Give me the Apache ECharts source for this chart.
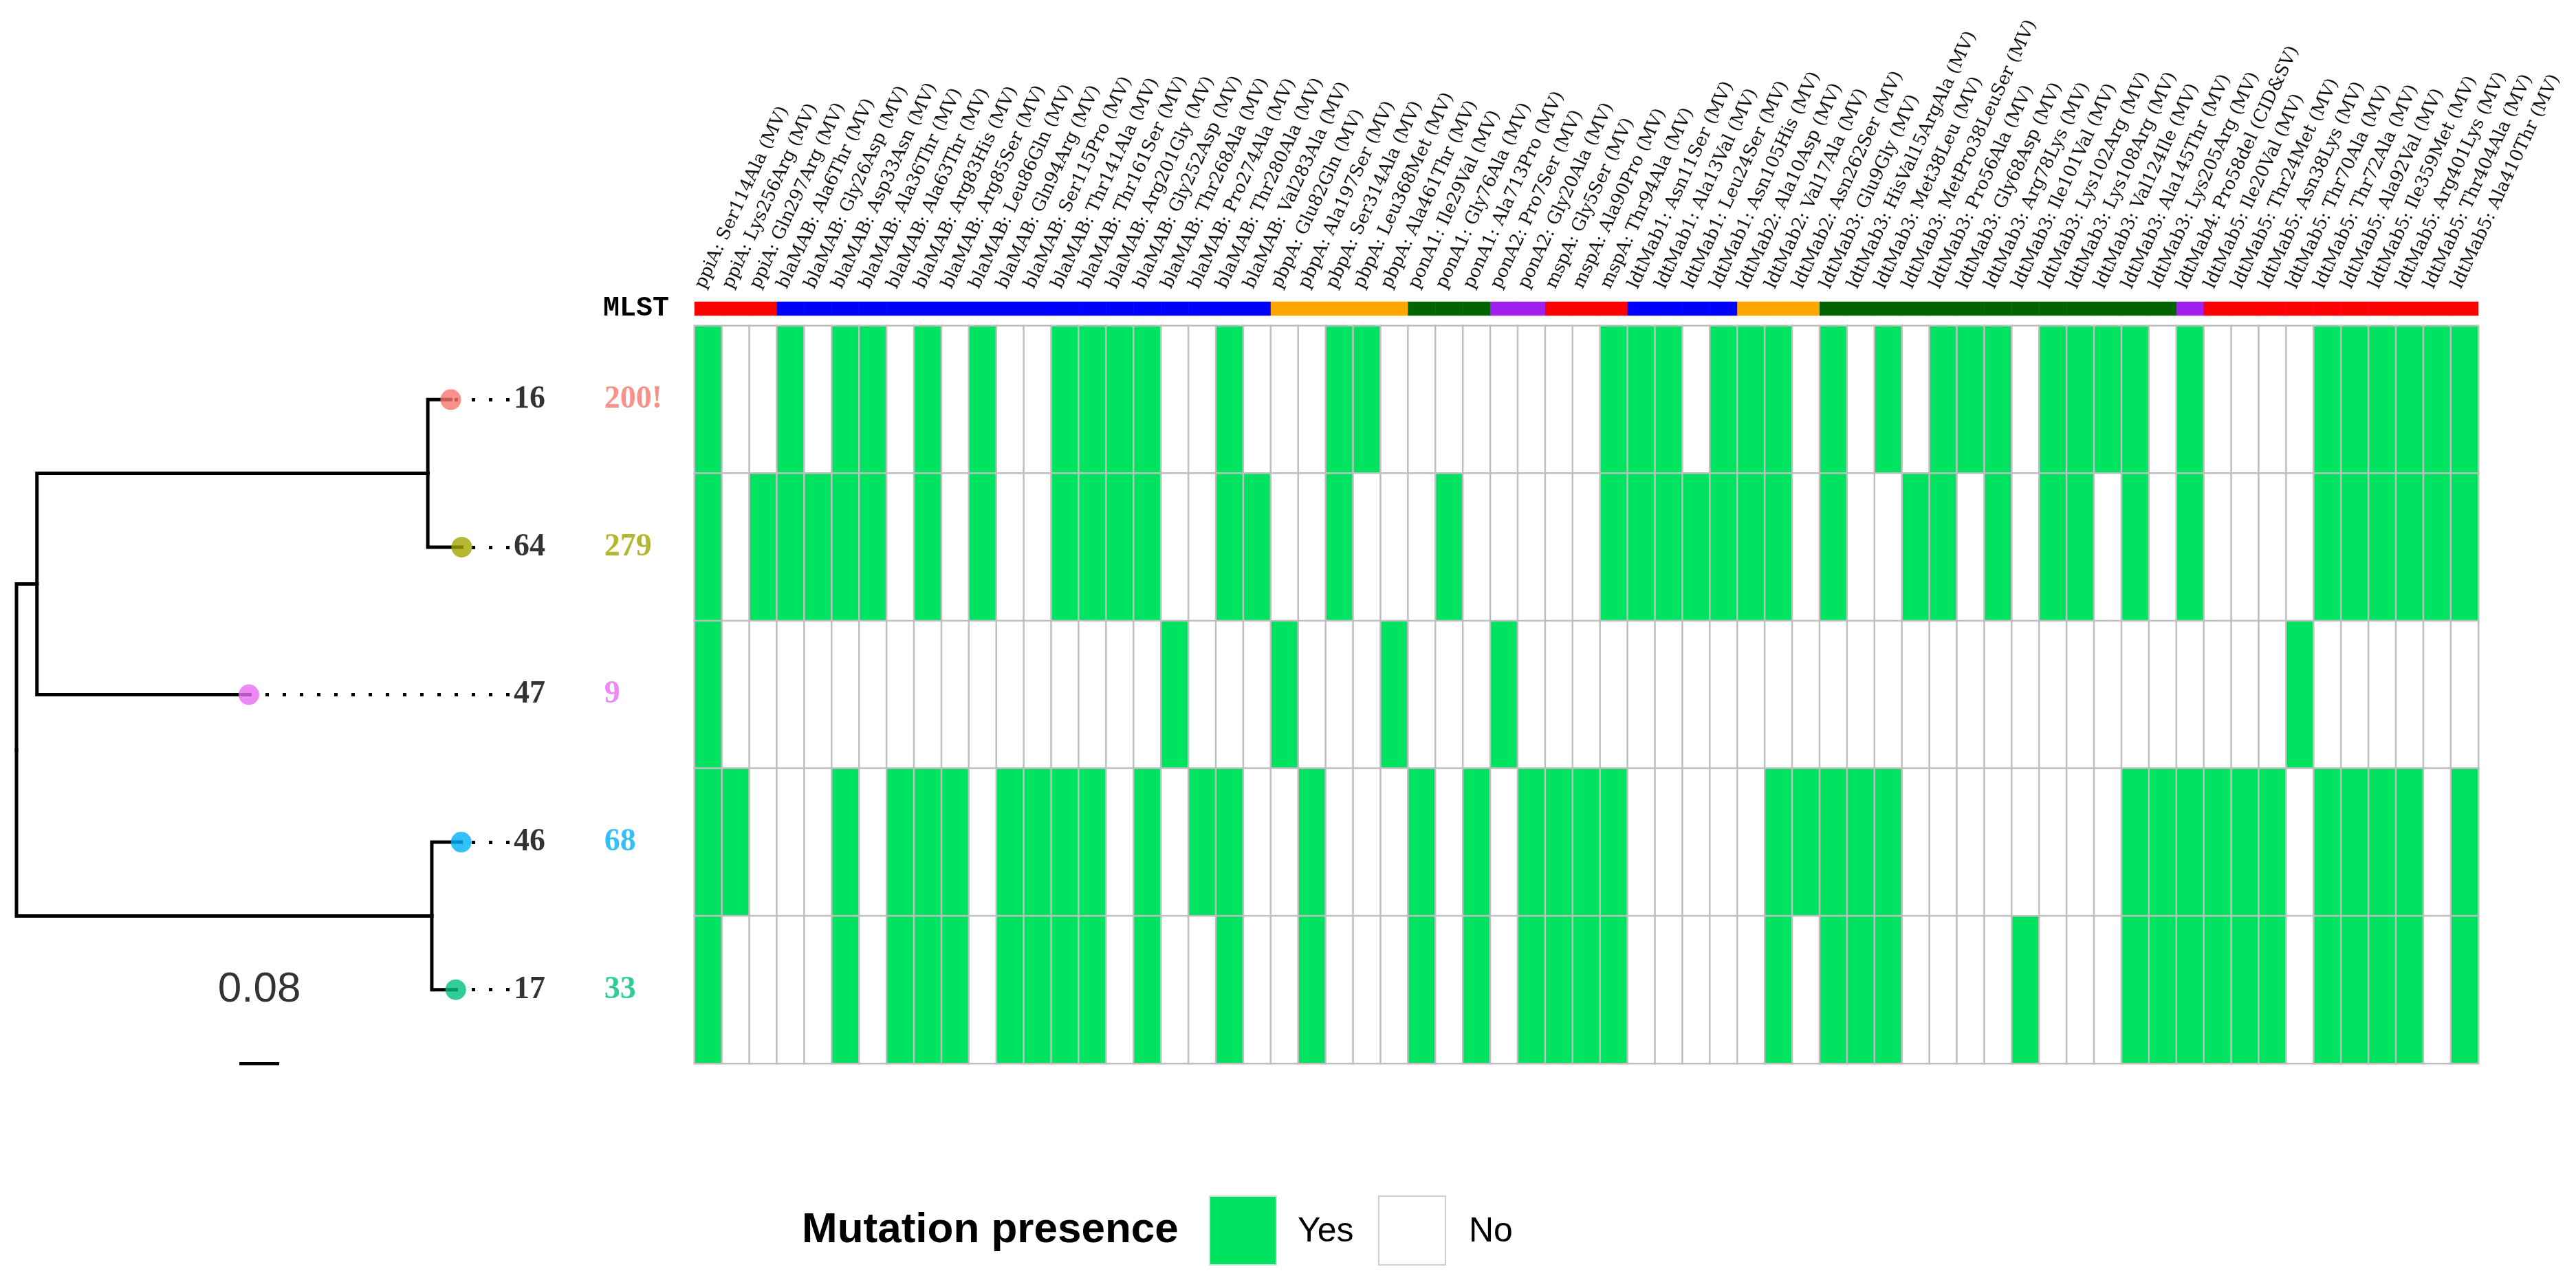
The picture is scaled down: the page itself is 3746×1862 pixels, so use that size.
<!DOCTYPE html>
<html><head><meta charset="utf-8">
<script src="https://cdn.jsdelivr.net/npm/echarts@6/dist/echarts.min.js"></script>
<style>html,body{margin:0;padding:0;background:#fff}#c{width:3746px;height:1862px}</style>
</head><body><div id="c"></div>
<script>
// ---------------- data ----------------
const mutations = [
 'ppiA: Ser114Ala (MV)','ppiA: Lys256Arg (MV)','ppiA: Gln297Arg (MV)',
 'blaMAB: Ala6Thr (MV)','blaMAB: Gly26Asp (MV)','blaMAB: Asp33Asn (MV)','blaMAB: Ala36Thr (MV)',
 'blaMAB: Ala63Thr (MV)','blaMAB: Arg83His (MV)','blaMAB: Arg85Ser (MV)','blaMAB: Leu86Gln (MV)',
 'blaMAB: Gln94Arg (MV)','blaMAB: Ser115Pro (MV)','blaMAB: Thr141Ala (MV)','blaMAB: Thr161Ser (MV)',
 'blaMAB: Arg201Gly (MV)','blaMAB: Gly252Asp (MV)','blaMAB: Thr268Ala (MV)','blaMAB: Pro274Ala (MV)',
 'blaMAB: Thr280Ala (MV)','blaMAB: Val283Ala (MV)',
 'pbpA: Glu82Gln (MV)','pbpA: Ala197Ser (MV)','pbpA: Ser314Ala (MV)','pbpA: Leu368Met (MV)','pbpA: Ala461Thr (MV)',
 'ponA1: Ile29Val (MV)','ponA1: Gly76Ala (MV)','ponA1: Ala713Pro (MV)',
 'ponA2: Pro7Ser (MV)','ponA2: Gly20Ala (MV)',
 'mspA: Gly5Ser (MV)','mspA: Ala90Pro (MV)','mspA: Thr94Ala (MV)',
 'ldtMab1: Asn11Ser (MV)','ldtMab1: Ala13Val (MV)','ldtMab1: Leu24Ser (MV)','ldtMab1: Asn105His (MV)',
 'ldtMab2: Ala10Asp (MV)','ldtMab2: Val17Ala (MV)','ldtMab2: Asn262Ser (MV)',
 'ldtMab3: Glu9Gly (MV)','ldtMab3: HisVal15ArgAla (MV)','ldtMab3: Met38Leu (MV)','ldtMab3: MetPro38LeuSer (MV)',
 'ldtMab3: Pro56Ala (MV)','ldtMab3: Gly68Asp (MV)','ldtMab3: Arg78Lys (MV)','ldtMab3: Ile101Val (MV)',
 'ldtMab3: Lys102Arg (MV)','ldtMab3: Lys108Arg (MV)','ldtMab3: Val124Ile (MV)','ldtMab3: Ala145Thr (MV)',
 'ldtMab3: Lys205Arg (MV)',
 'ldtMab4: Pro58del (CID&SV)',
 'ldtMab5: Ile20Val (MV)','ldtMab5: Thr24Met (MV)','ldtMab5: Asn38Lys (MV)','ldtMab5: Thr70Ala (MV)',
 'ldtMab5: Thr72Ala (MV)','ldtMab5: Ala92Val (MV)','ldtMab5: Ile359Met (MV)','ldtMab5: Arg401Lys (MV)',
 'ldtMab5: Thr404Ala (MV)','ldtMab5: Ala410Thr (MV)'
];
const genes = ['ppiA','blaMAB','pbpA','ponA1','ponA2','mspA','ldtMab1','ldtMab2','ldtMab3','ldtMab4','ldtMab5'];
const geneColors = ['#ff0000','#0000ff','#ffa500','#006400','#a020f0','#ff0000','#0000ff','#ffa500','#006400','#a020f0','#ff0000'];

const isolates = ['16','64','47','46','17'];
const mlstTypes = ['200!','279','9','68','33'];
const isolateColors = ['#F8766D','#A3A500','#E76BF3','#00B0F6','#00BF7D'];

// mutation presence (1 = yes, 0 = no), one list per isolate, in column order
const presence16 = [1,0,0,1,0, 1,1,0,1,0, 1,0,0,1,1, 1,1,0,0,1, 0,0,0,1,1, 0,0,0,0,0, 0,0,0,1,1, 1,0,1,1,1, 0,1,0,1,0, 1,1,1,0,1, 1,1,1,0,1, 0,0,0,0,1, 1,1,1,1,1];
const presence64 = [1,0,1,1,1, 1,1,0,1,0, 1,0,0,1,1, 1,1,0,0,1, 1,0,0,1,0, 0,0,1,0,0, 0,0,0,1,1, 1,1,1,1,1, 0,1,0,0,1, 1,0,1,0,1, 1,0,1,0,1, 0,0,0,0,1, 1,1,1,1,1];
const presence47 = [1,0,0,0,0, 0,0,0,0,0, 0,0,0,0,0, 0,0,1,0,0, 0,1,0,0,0, 1,0,0,0,1, 0,0,0,0,0, 0,0,0,0,0, 0,0,0,0,0, 0,0,0,0,0, 0,0,0,0,0, 0,0,0,1,0, 0,0,0,0,0];
const presence46 = [1,1,0,0,0, 1,0,1,1,1, 0,1,1,1,1, 0,1,0,1,1, 0,0,1,0,0, 0,1,0,1,0, 1,1,1,1,0, 0,0,0,0,1, 1,1,1,1,0, 0,0,0,0,0, 0,0,1,1,1, 1,1,1,0,1, 1,1,1,0,1];
const presence17 = [1,0,0,0,0, 1,0,1,1,1, 0,1,1,1,1, 0,1,0,0,1, 0,0,1,0,0, 0,1,0,1,0, 1,1,1,1,0, 0,0,0,0,1, 0,1,1,1,0, 0,0,0,1,0, 0,0,1,1,1, 1,1,1,0,1, 1,1,1,0,1];
const presenceRows = [presence16, presence64, presence47, presence46, presence17];

// phylogenetic tree: node, parent, branch length (substitutions/site)
const treeNodes    = ['root','n1','n2','n3','16','64','47','46','17'];
const treeParents  = [null,'root','n1','root','n2','n2','n1','n3','n3'];
const branchLength = [0, 0.041, 0.784, 0.833, 0.046, 0.068, 0.425, 0.059, 0.048];
const scaleBarLength = 0.08;

// ---------------- layout constants ----------------
const GREEN = '#00E360';
const tipLabelX = 0.989;   // tree units: where aligned tip labels start
const stLabelX = 1.179;
const scaleBarX0 = 0.447;

// ---------------- derived ----------------
const nodeX = {}, nodeY = {};
treeNodes.forEach((n, i) => {
  const p = treeParents[i];
  nodeX[n] = (p ? nodeX[p] : 0) + branchLength[i];
});
isolates.forEach((n, i) => { nodeY[n] = i + 0.5; });
function yOf(n) {
  if (nodeY[n] !== undefined) return nodeY[n];
  const kids = treeNodes.filter((m, i) => treeParents[i] === n);
  nodeY[n] = kids.reduce((s, k) => s + yOf(k), 0) / kids.length;
  return nodeY[n];
}
treeNodes.forEach(yOf);

const branchData = [];
treeNodes.forEach((n, i) => {
  const p = treeParents[i];
  if (!p) return;
  branchData.push({coords: [[nodeX[p], nodeY[p]], [nodeX[p], nodeY[n]], [nodeX[n], nodeY[n]]]});
});
const dotLineData = isolates.map(n => ({coords: [[tipLabelX, nodeY[n]], [nodeX[n], nodeY[n]]]}));
const tipDots = isolates.map((n, i) => ({value: [nodeX[n], nodeY[n]], itemStyle: {color: isolateColors[i]}}));
const tipLabels = isolates.map(n => ({value: [tipLabelX, nodeY[n]], name: n}));
const stLabels = mlstTypes.map((t, i) => ({value: [stLabelX, nodeY[isolates[i]]], name: t,
  label: {color: isolateColors[i]}}));

const heatData = [];
presenceRows.forEach((row, r) => row.forEach((v, c) => heatData.push([c, r, v])));
const geneData = mutations.map((m, c) => [c, 0, genes.indexOf(m.split(':')[0])]);

// ---------------- chart ----------------
const chart = echarts.init(document.getElementById('c'), null, {renderer: 'canvas'});
const serif = '"Liberation Serif", "Times New Roman", serif';
chart.setOption({
  animation: false,
  backgroundColor: '#ffffff',
  grid: [
    {left: 24, top: 474, width: 942.5, height: 1073},
    {left: 1010, top: 474, width: 2594, height: 1073},
    {left: 1010, top: 439, width: 2594, height: 20}
  ],
  xAxis: [
    {gridIndex: 0, type: 'value', min: 0, max: 1.3, show: false},
    {gridIndex: 1, type: 'category', data: mutations, show: false},
    {gridIndex: 2, type: 'category', data: mutations, position: 'top',
      axisLine: {show: false}, axisTick: {show: false}, splitLine: {show: false},
      axisLabel: {interval: 0, rotate: -65, align: 'left', verticalAlign: 'bottom', margin: 15,
        fontFamily: '"DejaVu Serif", serif', fontSize: 26, color: '#111'}}
  ],
  yAxis: [
    {gridIndex: 0, type: 'value', min: 0, max: 5, inverse: true, show: false},
    {gridIndex: 1, type: 'category', data: isolates, inverse: true, show: false},
    {gridIndex: 2, type: 'category', data: ['MLST'],
      axisLine: {show: false}, axisTick: {show: false}, splitLine: {show: false},
      axisLabel: {margin: 37, padding: [12, 0, 0, 0], fontFamily: '"Liberation Mono", monospace', fontWeight: 'bold', fontSize: 40, color: '#000'}}
  ],
  visualMap: [
    {type: 'piecewise', show: false, seriesIndex: 7, dimension: 2,
      pieces: [{value: 1, color: GREEN, label: 'Yes'}, {value: 0, color: '#ffffff', label: 'No'}]},
    {type: 'piecewise', show: false, seriesIndex: 8, dimension: 2,
      pieces: genes.map((g, i) => ({value: i, color: geneColors[i], label: g}))}
  ],
  series: [
    {type: 'lines', coordinateSystem: 'cartesian2d', xAxisIndex: 0, yAxisIndex: 0, polyline: true,
      silent: true, data: branchData, lineStyle: {color: '#000', width: 5, opacity: 1, join: 'miter', cap: 'square'}, z: 2},
    {type: 'lines', coordinateSystem: 'cartesian2d', xAxisIndex: 0, yAxisIndex: 0, polyline: false,
      silent: true, data: dotLineData, lineStyle: {color: '#000', width: 5, opacity: 1, type: [5, 20], cap: 'butt'}, z: 2},
    {type: 'scatter', xAxisIndex: 0, yAxisIndex: 0, symbol: 'circle', symbolSize: 30, data: tipDots, z: 3, silent: true},
    {type: 'scatter', xAxisIndex: 0, yAxisIndex: 0, symbolSize: 0, data: tipLabels, silent: true,
      label: {show: true, position: 'right', distance: 6, formatter: p => p.name,
        fontFamily: serif, fontWeight: 'bold', fontSize: 46, color: '#000'}},
    {type: 'scatter', xAxisIndex: 0, yAxisIndex: 0, symbolSize: 0, data: stLabels, silent: true,
      label: {show: true, position: 'right', distance: 0, formatter: p => p.name,
        fontFamily: serif, fontWeight: 'bold', fontSize: 46}},
    {type: 'lines', coordinateSystem: 'cartesian2d', xAxisIndex: 0, yAxisIndex: 0, silent: true,
      data: [{coords: [[scaleBarX0, 5], [scaleBarX0 + scaleBarLength, 5]]}],
      lineStyle: {color: '#000', width: 5, opacity: 1}},
    {type: 'scatter', xAxisIndex: 0, yAxisIndex: 0, symbolSize: 0, silent: true,
      data: [{value: [scaleBarX0 + scaleBarLength / 2, 4.5], name: String(scaleBarLength)}],
      label: {show: true, position: 'inside', formatter: p => p.name,
        fontFamily: '"Liberation Sans", Arial, sans-serif', fontSize: 62, color: '#000'}},
    {type: 'heatmap', xAxisIndex: 1, yAxisIndex: 1, data: heatData, silent: true,
      itemStyle: {borderColor: '#bfbfbf', borderWidth: 2.5}, emphasis: {disabled: true}},
    {type: 'heatmap', xAxisIndex: 2, yAxisIndex: 2, data: geneData, silent: true,
      itemStyle: {borderWidth: 0}, emphasis: {disabled: true}}
  ],
  graphic: [
    {type: 'text', x: 1166, y: 1790, style: {text: 'Mutation presence', fill: '#000',
      font: 'bold 62px "Liberation Sans", Arial, sans-serif', verticalAlign: 'middle', align: 'left'}},
    {type: 'rect', shape: {x: 1759, y: 1740, width: 97, height: 100}, style: {fill: GREEN, stroke: '#d9d9d9', lineWidth: 2}},
    {type: 'text', x: 1887, y: 1792, style: {text: 'Yes', fill: '#000',
      font: '50px "Liberation Sans", Arial, sans-serif', verticalAlign: 'middle', align: 'left'}},
    {type: 'rect', shape: {x: 2005, y: 1740, width: 97, height: 100}, style: {fill: '#ffffff', stroke: '#d0d0d0', lineWidth: 2}},
    {type: 'text', x: 2136, y: 1792, style: {text: 'No', fill: '#000',
      font: '50px "Liberation Sans", Arial, sans-serif', verticalAlign: 'middle', align: 'left'}}
  ]
});
</script>
</body></html>
